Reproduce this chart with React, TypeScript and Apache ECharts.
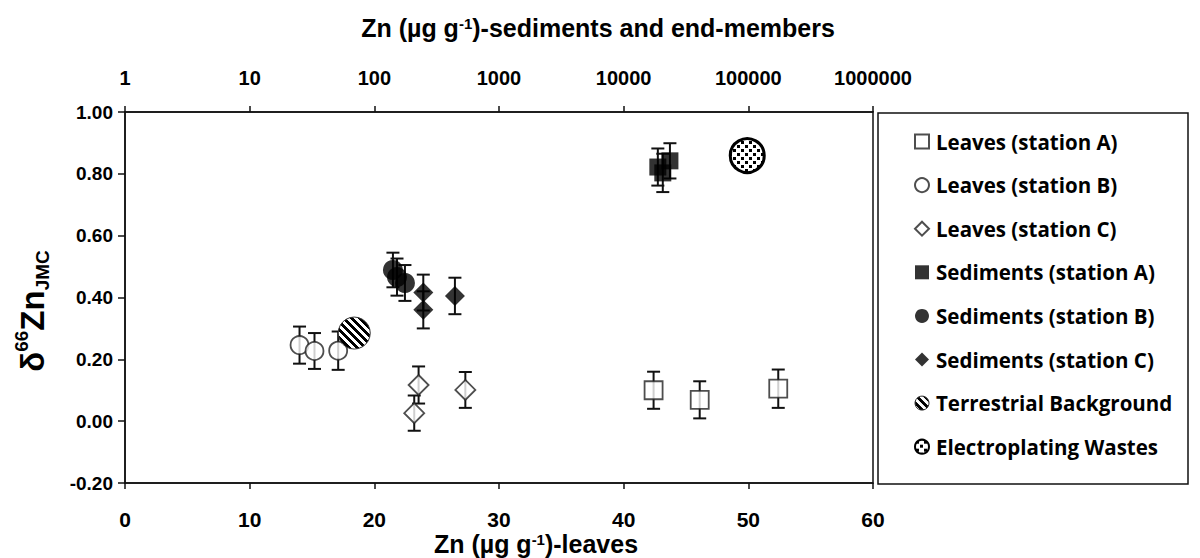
import React, { useEffect, useRef } from 'react';
import * as echarts from 'echarts';

// ---- Leaves (bottom axis, Zn µg/g, linear) ----
const leavesAZn = [42.4, 46.1, 52.4];
const leavesAD = [0.100, 0.069, 0.105];
const leavesAErr = [0.060, 0.060, 0.062];

const leavesBZn = [14.0, 15.2, 17.1];
const leavesBD = [0.246, 0.227, 0.228];
const leavesBErr = [0.060, 0.058, 0.062];

const leavesCZn = [23.55, 23.2, 27.3];
const leavesCD = [0.117, 0.026, 0.101];
const leavesCErr = [0.060, 0.057, 0.058];

// ---- Sediments & end-members (top axis, Zn µg/g, log) ----
const sedAZn = [18800, 23500, 20600];
const sedAD = [0.822, 0.842, 0.803];
const sedAErr = [0.060, 0.057, 0.062];

const sedBZn = [141, 152, 176];
const sedBD = [0.489, 0.466, 0.447];
const sedBErr = [0.056, 0.060, 0.058];

const sedCZn = [247, 247, 443];
const sedCD = [0.416, 0.360, 0.405];
const sedCErr = [0.058, 0.060, 0.059];

const terrZn = [69];
const terrD = [0.285];

const elecZn = [98000];
const elecD = [0.859];

// ---- axis ticks ----
const bottomTicks = { min: 0, max: 60, interval: 10 };
const topTicks = { min: 1, max: 1000000 };
const yTicks = { min: -0.2, max: 1.0, interval: 0.2 };

const legendNames = [
  'Leaves (station A)',
  'Leaves (station B)',
  'Leaves (station C)',
  'Sediments (station A)',
  'Sediments (station B)',
  'Sediments (station C)',
  'Terrestrial Background',
  'Electroplating Wastes',
];

const FONT = '"Liberation Sans", Arial, sans-serif';

function pts(xs: number[], ys: number[]) {
  return xs.map((x, i) => [x, ys[i]]);
}
function errs(xs: number[], ys: number[], es: number[]) {
  return xs.map((x, i) => [x, ys[i] - es[i], ys[i] + es[i]]);
}

function makeHatch(): any {
  const n = 8;
  const c = document.createElement('canvas');
  c.width = n;
  c.height = n;
  const ctx = c.getContext('2d')!;
  const img = ctx.createImageData(n, n);
  for (let y = 0; y < n; y++) {
    for (let x = 0; x < n; x++) {
      const k = (((x - y) % n) + n) % n;
      const v = k < 4 ? 0 : 255;
      const o = (y * n + x) * 4;
      img.data[o] = v;
      img.data[o + 1] = v;
      img.data[o + 2] = v;
      img.data[o + 3] = 255;
    }
  }
  ctx.putImageData(img, 0, 0);
  return { image: c, repeat: 'repeat' };
}

function makeDots(): any {
  const n = 8;
  const c = document.createElement('canvas');
  c.width = n;
  c.height = n;
  const ctx = c.getContext('2d')!;
  ctx.fillStyle = '#fff';
  ctx.fillRect(0, 0, n, n);
  ctx.fillStyle = '#000';
  ctx.fillRect(1, 1, 3, 3);
  ctx.fillRect(5, 5, 3, 3);
  return { image: c, repeat: 'repeat' };
}

function errorBarRender(params: any, api: any) {
  const x = api.value(0);
  const lo = api.coord([x, api.value(1)]);
  const hi = api.coord([x, api.value(2)]);
  const cw = 6.5;
  const st = { stroke: '#111', lineWidth: 2 };
  return {
    type: 'group',
    children: [
      { type: 'line', shape: { x1: lo[0], y1: lo[1], x2: hi[0], y2: hi[1] }, style: st },
      { type: 'line', shape: { x1: lo[0] - cw, y1: lo[1], x2: lo[0] + cw, y2: lo[1] }, style: st },
      { type: 'line', shape: { x1: hi[0] - cw, y1: hi[1], x2: hi[0] + cw, y2: hi[1] }, style: st },
    ],
  };
}

function patternCircle(radius: number, fill: any, stroke: string, lw: number) {
  return (params: any, api: any) => {
    const p = api.coord([api.value(0), api.value(1)]);
    return {
      type: 'circle',
      shape: { cx: p[0], cy: p[1], r: radius },
      style: { fill, stroke, lineWidth: lw },
    };
  };
}

export default function App() {
  const ref = useRef<HTMLDivElement>(null);
  useEffect(() => {
    if (!ref.current) return;
    const chart = echarts.init(ref.current, undefined, { renderer: 'svg' });
    const hatch = makeHatch();
    const dots = makeDots();
    const openStyle = { color: '#fff', borderColor: '#222', borderWidth: 1.8 };
    const filledStyle = { color: '#000', borderColor: '#000', borderWidth: 0 };
    const axisLine = { show: true, onZero: false, lineStyle: { color: '#111', width: 1.5 } };
    const tickLine = { color: '#111', width: 1.5 };

    const option: any = {
      animation: false,
      backgroundColor: '#fff',
      grid: {
        left: 125,
        top: 112,
        width: 748,
        height: 371,
        show: true,
        borderColor: '#111',
        borderWidth: 1.5,
        containLabel: false,
      },
      xAxis: [
        {
          type: 'value',
          position: 'bottom',
          min: bottomTicks.min,
          max: bottomTicks.max,
          interval: bottomTicks.interval,
          axisLine,
          axisTick: { show: true, inside: false, length: 6, lineStyle: tickLine },
          axisLabel: { fontFamily: FONT, fontWeight: 'bold', fontSize: 21, color: '#000', margin: 26 },
          splitLine: { show: false },
        },
        {
          type: 'log',
          position: 'top',
          logBase: 10,
          min: topTicks.min,
          max: topTicks.max,
          axisLine,
          axisTick: { show: true, inside: false, length: 6, lineStyle: tickLine },
          axisLabel: {
            fontFamily: FONT, fontWeight: 'bold', fontSize: 20, color: '#000', margin: 24,
            formatter: (v: number) => String(Math.round(v)),
          },
          splitLine: { show: false },
          minorTick: { show: false },
        },
      ],
      yAxis: {
        type: 'value',
        min: yTicks.min,
        max: yTicks.max,
        interval: yTicks.interval,
        axisLine,
        axisTick: { show: true, inside: false, length: 7, lineStyle: tickLine },
        axisLabel: {
          fontFamily: FONT, fontWeight: 'bold', fontSize: 19, color: '#000', margin: 12,
          formatter: (v: number) => v.toFixed(2),
        },
        splitLine: { show: false },
      },
      legend: {
        orient: 'vertical',
        left: 909,
        top: 126,
        itemWidth: 14,
        itemHeight: 14,
        itemGap: 22.6,
        selectedMode: false,
        data: [
          legendNames[0],
          legendNames[1],
          legendNames[2],
          legendNames[3],
          legendNames[4],
          legendNames[5],
          { name: legendNames[6], icon: 'circle', itemStyle: { color: hatch, borderColor: '#333', borderWidth: 1 } },
          { name: legendNames[7], icon: 'circle', itemStyle: { color: dots, borderColor: '#000', borderWidth: 2 } },
        ],
        textStyle: {
          fontFamily: '"Open Sans", Lato, sans-serif',
          fontWeight: 'bold',
          fontSize: 20.5,
          lineHeight: 21,
          color: '#000',
          padding: [0, 0, 0, 2],
        },
      },
      graphic: [
        {
          type: 'rect',
          shape: { x: 878, y: 113, width: 310, height: 371 },
          style: { fill: 'none', stroke: '#111', lineWidth: 1.5 },
          z: 0,
        },
        {
          type: 'text',
          x: 598,
          y: 28,
          style: {
            text: 'Zn (µg g{s|-1})-sediments and end-members',
            fontFamily: FONT,
            fontWeight: 'bold',
            fontSize: 25,
            fill: '#000',
            align: 'center',
            verticalAlign: 'middle',
            rich: { s: { fontFamily: FONT, fontWeight: 'bold', fontSize: 15, verticalAlign: 'top' } },
          },
        },
        {
          type: 'text',
          x: 536,
          y: 544,
          style: {
            text: 'Zn (µg g{s|-1})-leaves',
            fontFamily: FONT,
            fontWeight: 'bold',
            fontSize: 25,
            fill: '#000',
            align: 'center',
            verticalAlign: 'middle',
            rich: { s: { fontFamily: FONT, fontWeight: 'bold', fontSize: 15, verticalAlign: 'top' } },
          },
        },
        {
          type: 'text',
          x: 32,
          y: 311,
          rotation: Math.PI / 2,
          style: {
            text: '{b|δ}{p|66}{b|Zn}{u|JMC}',
            align: 'center',
            verticalAlign: 'middle',
            fill: '#000',
            rich: {
              b: { fontFamily: FONT, fontWeight: 'bold', fontSize: 33, lineHeight: 40 },
              p: { fontFamily: FONT, fontWeight: 'bold', fontSize: 19, verticalAlign: 'top', lineHeight: 23 },
              u: { fontFamily: FONT, fontWeight: 'bold', fontSize: 19, verticalAlign: 'bottom', lineHeight: 21 },
            },
          },
        },
      ],
      series: [
        {
          type: 'custom',
          name: 'errLeaves',
          xAxisIndex: 0,
          z: 1,
          renderItem: errorBarRender,
          encode: { x: 0, y: [1, 2] },
          data: [
            ...errs(leavesAZn, leavesAD, leavesAErr),
            ...errs(leavesBZn, leavesBD, leavesBErr),
            ...errs(leavesCZn, leavesCD, leavesCErr),
          ],
        },
        {
          type: 'custom',
          name: 'errSed',
          xAxisIndex: 1,
          z: 1,
          renderItem: errorBarRender,
          encode: { x: 0, y: [1, 2] },
          data: [
            ...errs(sedAZn, sedAD, sedAErr),
            ...errs(sedBZn, sedBD, sedBErr),
            ...errs(sedCZn, sedCD, sedCErr),
          ],
        },
        {
          type: 'scatter', name: legendNames[0], xAxisIndex: 0, z: 3,
          symbol: 'rect', symbolSize: 18, itemStyle: openStyle, data: pts(leavesAZn, leavesAD),
        },
        {
          type: 'scatter', name: legendNames[1], xAxisIndex: 0, z: 3,
          symbol: 'circle', symbolSize: 18, itemStyle: openStyle, data: pts(leavesBZn, leavesBD),
        },
        {
          type: 'scatter', name: legendNames[2], xAxisIndex: 0, z: 3,
          symbol: 'diamond', symbolSize: 20, itemStyle: openStyle, data: pts(leavesCZn, leavesCD),
        },
        {
          type: 'scatter', name: legendNames[3], xAxisIndex: 1, z: 3,
          symbol: 'rect', symbolSize: 17, itemStyle: filledStyle, data: pts(sedAZn, sedAD),
        },
        {
          type: 'scatter', name: legendNames[4], xAxisIndex: 1, z: 3,
          symbol: 'circle', symbolSize: 20, itemStyle: filledStyle, data: pts(sedBZn, sedBD),
        },
        {
          type: 'scatter', name: legendNames[5], xAxisIndex: 1, z: 3,
          symbol: 'diamond', symbolSize: 20, itemStyle: filledStyle, data: pts(sedCZn, sedCD),
        },
        {
          type: 'custom', name: legendNames[6], xAxisIndex: 1, z: 4,
          renderItem: patternCircle(16, hatch, '#333', 1),
          encode: { x: 0, y: 1 },
          itemStyle: { color: '#000' },
          data: pts(terrZn, terrD),
        },
        {
          type: 'custom', name: legendNames[7], xAxisIndex: 1, z: 4,
          renderItem: patternCircle(17, dots, '#000', 3),
          encode: { x: 0, y: 1 },
          itemStyle: { color: '#000' },
          data: pts(elecZn, elecD),
        },
      ],
    };
    chart.setOption(option);
    return () => chart.dispose();
  }, []);
  return (
    <div
      ref={ref}
      style={{ position: 'fixed', left: 0, top: 0, width: 1200, height: 558, background: '#fff' }}
    />
  );
}
